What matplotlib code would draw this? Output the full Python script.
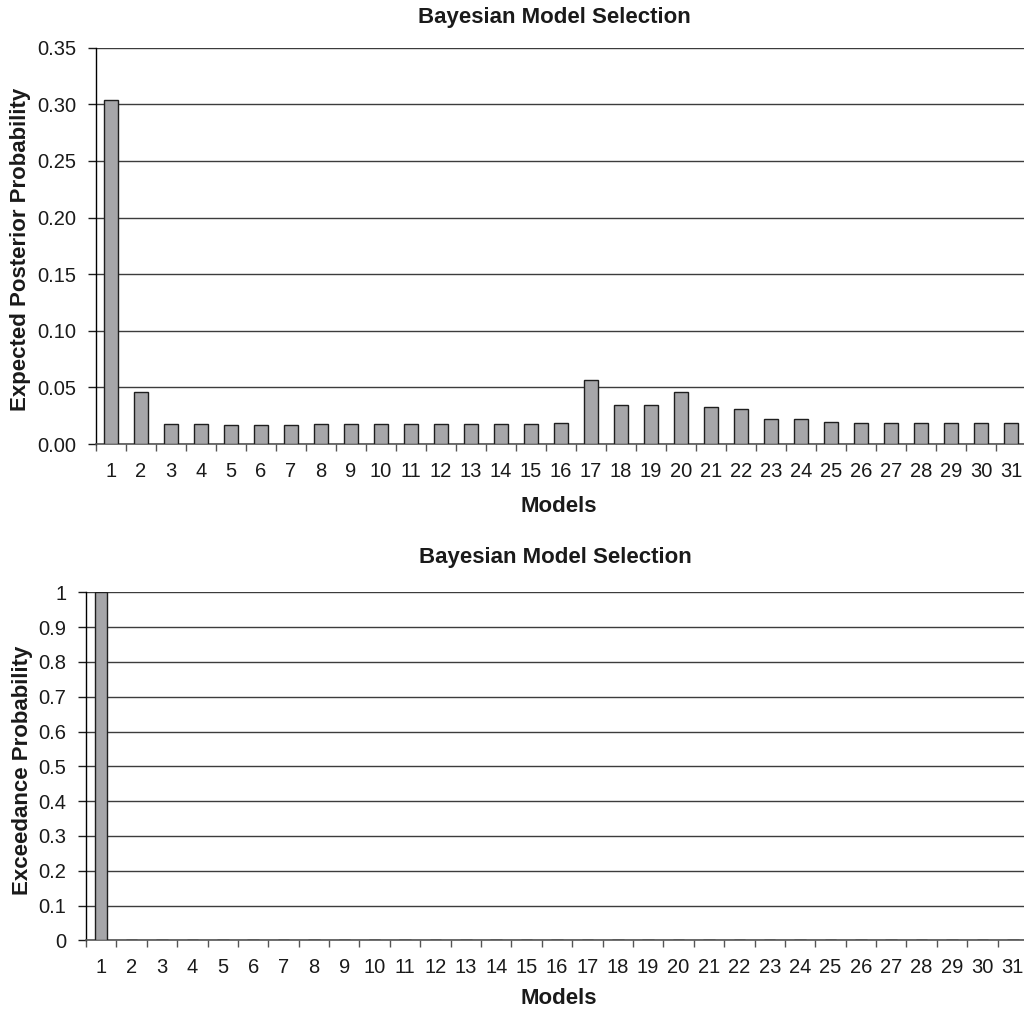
import matplotlib
matplotlib.use("Agg")
import matplotlib.pyplot as plt
import numpy as np

plt.rcParams['font.family'] = ['Liberation Sans', 'DejaVu Sans']

models = list(range(1, 32))
expected_posterior = [0.3035, 0.0456, 0.0177, 0.0177, 0.0165, 0.0165, 0.0165, 0.0177, 0.0177, 0.0177,
                      0.0177, 0.0177, 0.0177, 0.0177, 0.0177, 0.0189, 0.0562, 0.0343, 0.0343, 0.0456,
                      0.0331, 0.0311, 0.0219, 0.0219, 0.0198, 0.0189, 0.0189, 0.0189, 0.0189, 0.0189, 0.0189]
exceedance = [1.0] + [0.0] * 30

top_yticks = [0.00, 0.05, 0.10, 0.15, 0.20, 0.25, 0.30, 0.35]
top_ylabels = ["0.00", "0.05", "0.10", "0.15", "0.20", "0.25", "0.30", "0.35"]
bot_yticks = [0, 0.1, 0.2, 0.3, 0.4, 0.5, 0.6, 0.7, 0.8, 0.9, 1.0]
bot_ylabels = ["0", "0.1", "0.2", "0.3", "0.4", "0.5", "0.6", "0.7", "0.8", "0.9", "1"]

title = "Bayesian Model Selection"
xlabel = "Models"
top_ylabel = "Expected Posterior Probability"
bot_ylabel = "Exceedance Probability"

W, H = 1024, 1015
fig = plt.figure(figsize=(W / 100, H / 100), dpi=100)

def px_axes(l, t, r, b):
    return fig.add_axes([l / W, 1 - b / H, (r - l) / W, (b - t) / H])

bar_face = '#a6a6a9'
bar_edge = '#1e1e1e'
grid_col = '#3c3c3c'

def style(ax, yticks, ylabels, ymax):
    ax.set_xlim(0.5, 31.5)
    ax.set_ylim(0, ymax)
    for s in ['top', 'right']:
        ax.spines[s].set_visible(False)
    ax.spines['left'].set_color('black')
    ax.spines['bottom'].set_color('#555555')
    ax.spines['left'].set_linewidth(1.0)
    ax.spines['bottom'].set_linewidth(1.2)
    ax.set_yticks(yticks)
    ax.set_yticklabels(ylabels)
    ax.set_xticks(models)
    ax.set_xticklabels([str(m) for m in models])
    ax.set_xticks(np.arange(0.5, 32, 1.0), minor=True)
    ax.tick_params(axis='x', which='major', length=0, pad=13, labelsize=14.5, colors='#1a1a1a')
    ax.tick_params(axis='x', which='minor', length=5, width=1, color='#555555', direction='out')
    ax.tick_params(axis='y', which='major', length=6, width=1, pad=8, labelsize=14.5, colors='#1a1a1a')
    ax.yaxis.grid(True, color=grid_col, linewidth=1.0)
    ax.set_axisbelow(True)

# Top chart
ax1 = px_axes(96, 47.7, 1026, 444)
ax1.bar(models, expected_posterior, width=0.44, color=bar_face, edgecolor=bar_edge, linewidth=1.0, zorder=3)
style(ax1, top_yticks, top_ylabels, 0.35)

# Bottom chart
ax2 = px_axes(86, 592.3, 1028, 940.3)
ax2.bar(models, exceedance, width=0.38, color=bar_face, edgecolor=bar_edge, linewidth=1.0, zorder=3)
style(ax2, bot_yticks, bot_ylabels, 1.0)

def ftext(x, y, s, **kw):
    fig.text(x / W, 1 - y / H, s, ha='center', va='center', fontweight='bold',
             fontsize=16, color='#1a1a1a', **kw)

ftext(554, 17, title)
ftext(559, 506, xlabel)
ftext(21, 249, top_ylabel, rotation=90)
ftext(555, 558, title)
ftext(559, 998, xlabel)
ftext(23, 770, bot_ylabel, rotation=90)

fig.savefig("out.png", dpi=100)
